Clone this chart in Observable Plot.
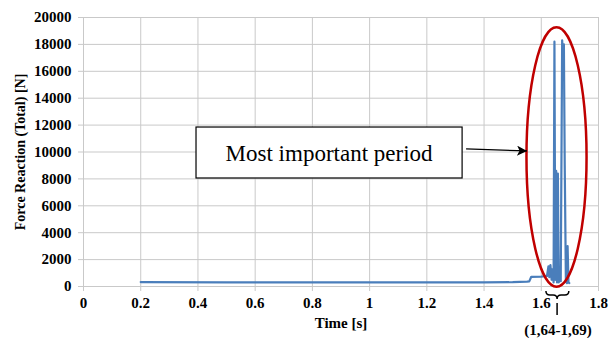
<!DOCTYPE html>
<html><head><meta charset="utf-8">
<script src="https://cdn.jsdelivr.net/npm/d3@7"></script>
<script src="https://cdn.jsdelivr.net/npm/@observablehq/plot@0.6"></script>
<style>body{margin:0;background:#fff}</style>
</head><body><div id="chart"></div>
<script>
// Time [s]
const times = [0.2, 0.5, 1.0, 1.4, 1.5, 1.55, 1.558, 1.565, 1.6, 1.62, 1.625, 1.628, 1.632, 1.636, 1.64, 1.643, 1.646, 1.649, 1.652, 1.655, 1.658, 1.661, 1.665, 1.668, 1.673, 1.676, 1.679, 1.682, 1.686, 1.69, 1.692, 1.695, 1.698];
// Force Reaction (Total) [N]
const forces = [330, 310, 300, 300, 320, 360, 380, 720, 740, 780, 1500, 700, 1600, 500, 1300, 300, 18200, 500, 8600, 300, 8400, 300, 600, 400, 18300, 17000, 18000, 9000, 400, 250, 3000, 300, 250];
const xTicks = [0, 0.2, 0.4, 0.6, 0.8, 1, 1.2, 1.4, 1.6, 1.8];
const xTickLabels = ["0", "0.2", "0.4", "0.6", "0.8", "1", "1.2", "1.4", "1.6", "1.8"];
const yTicks = [0, 2000, 4000, 6000, 8000, 10000, 12000, 14000, 16000, 18000, 20000];
const annotationText = "Most important period";
const periodLabel = "(1,64-1,69)";
const periodRange = [1.64, 1.69];

const data = times.map((t, i) => ({t, f: forces[i]}));
const grid = "#c9c9c9";
const font = "'Liberation Serif', 'Times New Roman', serif";

const chart = Plot.plot({
  width: 616, height: 338,
  marginLeft: 83, marginRight: 18, marginTop: 17, marginBottom: 52,
  style: {fontFamily: font, fontSize: "15px", fontWeight: "bold", color: "#000", background: "#fff"},
  x: {domain: [0, 1.8]},
  y: {domain: [0, 20000]},
  marks: [
    Plot.gridY(yTicks, {stroke: grid, strokeOpacity: 1}),
    Plot.gridX(xTicks, {stroke: grid, strokeOpacity: 1}),
    Plot.axisY(yTicks, {tickSize: 5, tickPadding: 7, stroke: grid, label: null, tickFormat: d => String(d)}),
    Plot.axisX(xTicks, {tickSize: 5, tickPadding: 6, stroke: grid, label: null, tickFormat: (d, i) => xTickLabels[i]}),
    Plot.ruleY([0], {stroke: grid}),
    Plot.ruleX([0], {stroke: grid}),
    Plot.line(data, {x: "t", y: "f", stroke: "#4a7ebb", strokeWidth: 2.2}),
    Plot.text(["Time [s]"], {frameAnchor: "bottom", dy: 37, lineAnchor: "middle", textAnchor: "middle", fontSize: 15, fontWeight: "bold", fill: "#000"}),
    Plot.text(["Force Reaction (Total) [N]"], {frameAnchor: "left", dx: -63, rotate: -90, textAnchor: "middle", lineAnchor: "middle", fontSize: 14, fontWeight: "bold", fill: "#000"})
  ]
});
document.getElementById("chart").appendChild(chart);

// Annotations positioned through the chart's scales
const sx = chart.scale("x"), sy = chart.scale("y");
const X = v => sx.apply(v), Y = v => sy.apply(v);
const svg = d3.select(chart);
const g = svg.append("g");

// red ellipse around the peaks
const ex = X((periodRange[0] + periodRange[1]) / 2 - 0.01), ey = Y(9590);
g.append("ellipse").attr("cx", ex).attr("cy", ey)
  .attr("rx", X(1.76) - X(1.655)).attr("ry", Y(0) - Y(9640))
  .attr("fill", "none").attr("stroke", "#c00000").attr("stroke-width", 2.5);

// text box
const bx1 = X(0.395), bx2 = X(1.325), by1 = Y(11820), by2 = Y(8030);
g.append("rect").attr("x", bx1).attr("y", by1).attr("width", bx2 - bx1).attr("height", by2 - by1)
  .attr("fill", "#fff").attr("stroke", "#000").attr("stroke-width", 1.2);
g.append("text").attr("x", (bx1 + bx2) / 2).attr("y", (by1 + by2) / 2).attr("dy", "0.35em")
  .attr("text-anchor", "middle").attr("font-family", font).attr("font-weight", "normal")
  .attr("font-size", 23).text(annotationText);

// arrow
svg.append("defs").append("marker").attr("id", "ah").attr("viewBox", "0 0 10 10")
  .attr("refX", 10).attr("refY", 5).attr("markerWidth", 13).attr("markerHeight", 10)
  .attr("markerUnits", "userSpaceOnUse").attr("orient", "auto")
  .append("path").attr("d", "M0,0 L10,5 L0,10 L2.5,5 z").attr("fill", "#000");
g.append("line").attr("x1", X(1.339)).attr("y1", Y(10190)).attr("x2", X(1.552)).attr("y2", Y(10040))
  .attr("stroke", "#000").attr("stroke-width", 1.3).attr("marker-end", "url(#ah)");

// brace under the axis
const b1 = X(1.618), b2 = X(1.698), bm = X(1.657), y0 = Y(0) + 5;
const brace = `M${b1},${y0} Q${b1},${y0+4} ${b1+4},${y0+4} L${bm-4},${y0+4} Q${bm},${y0+4} ${bm},${y0+8} Q${bm},${y0+4} ${bm+4},${y0+4} L${b2-4},${y0+4} Q${b2},${y0+4} ${b2},${y0}`;
g.append("path").attr("d", brace).attr("fill", "none").attr("stroke", "#000").attr("stroke-width", 1.5);
g.append("line").attr("x1", bm).attr("x2", bm).attr("y1", Y(0) + 17).attr("y2", Y(0) + 29)
  .attr("stroke", "#000").attr("stroke-width", 1.5);
g.append("text").attr("x", bm + 1).attr("y", Y(0) + 44).attr("dy", "0.35em").attr("text-anchor", "middle")
  .attr("font-family", font).attr("font-size", 15).attr("font-weight", "bold").text(periodLabel);
</script>
</body></html>
